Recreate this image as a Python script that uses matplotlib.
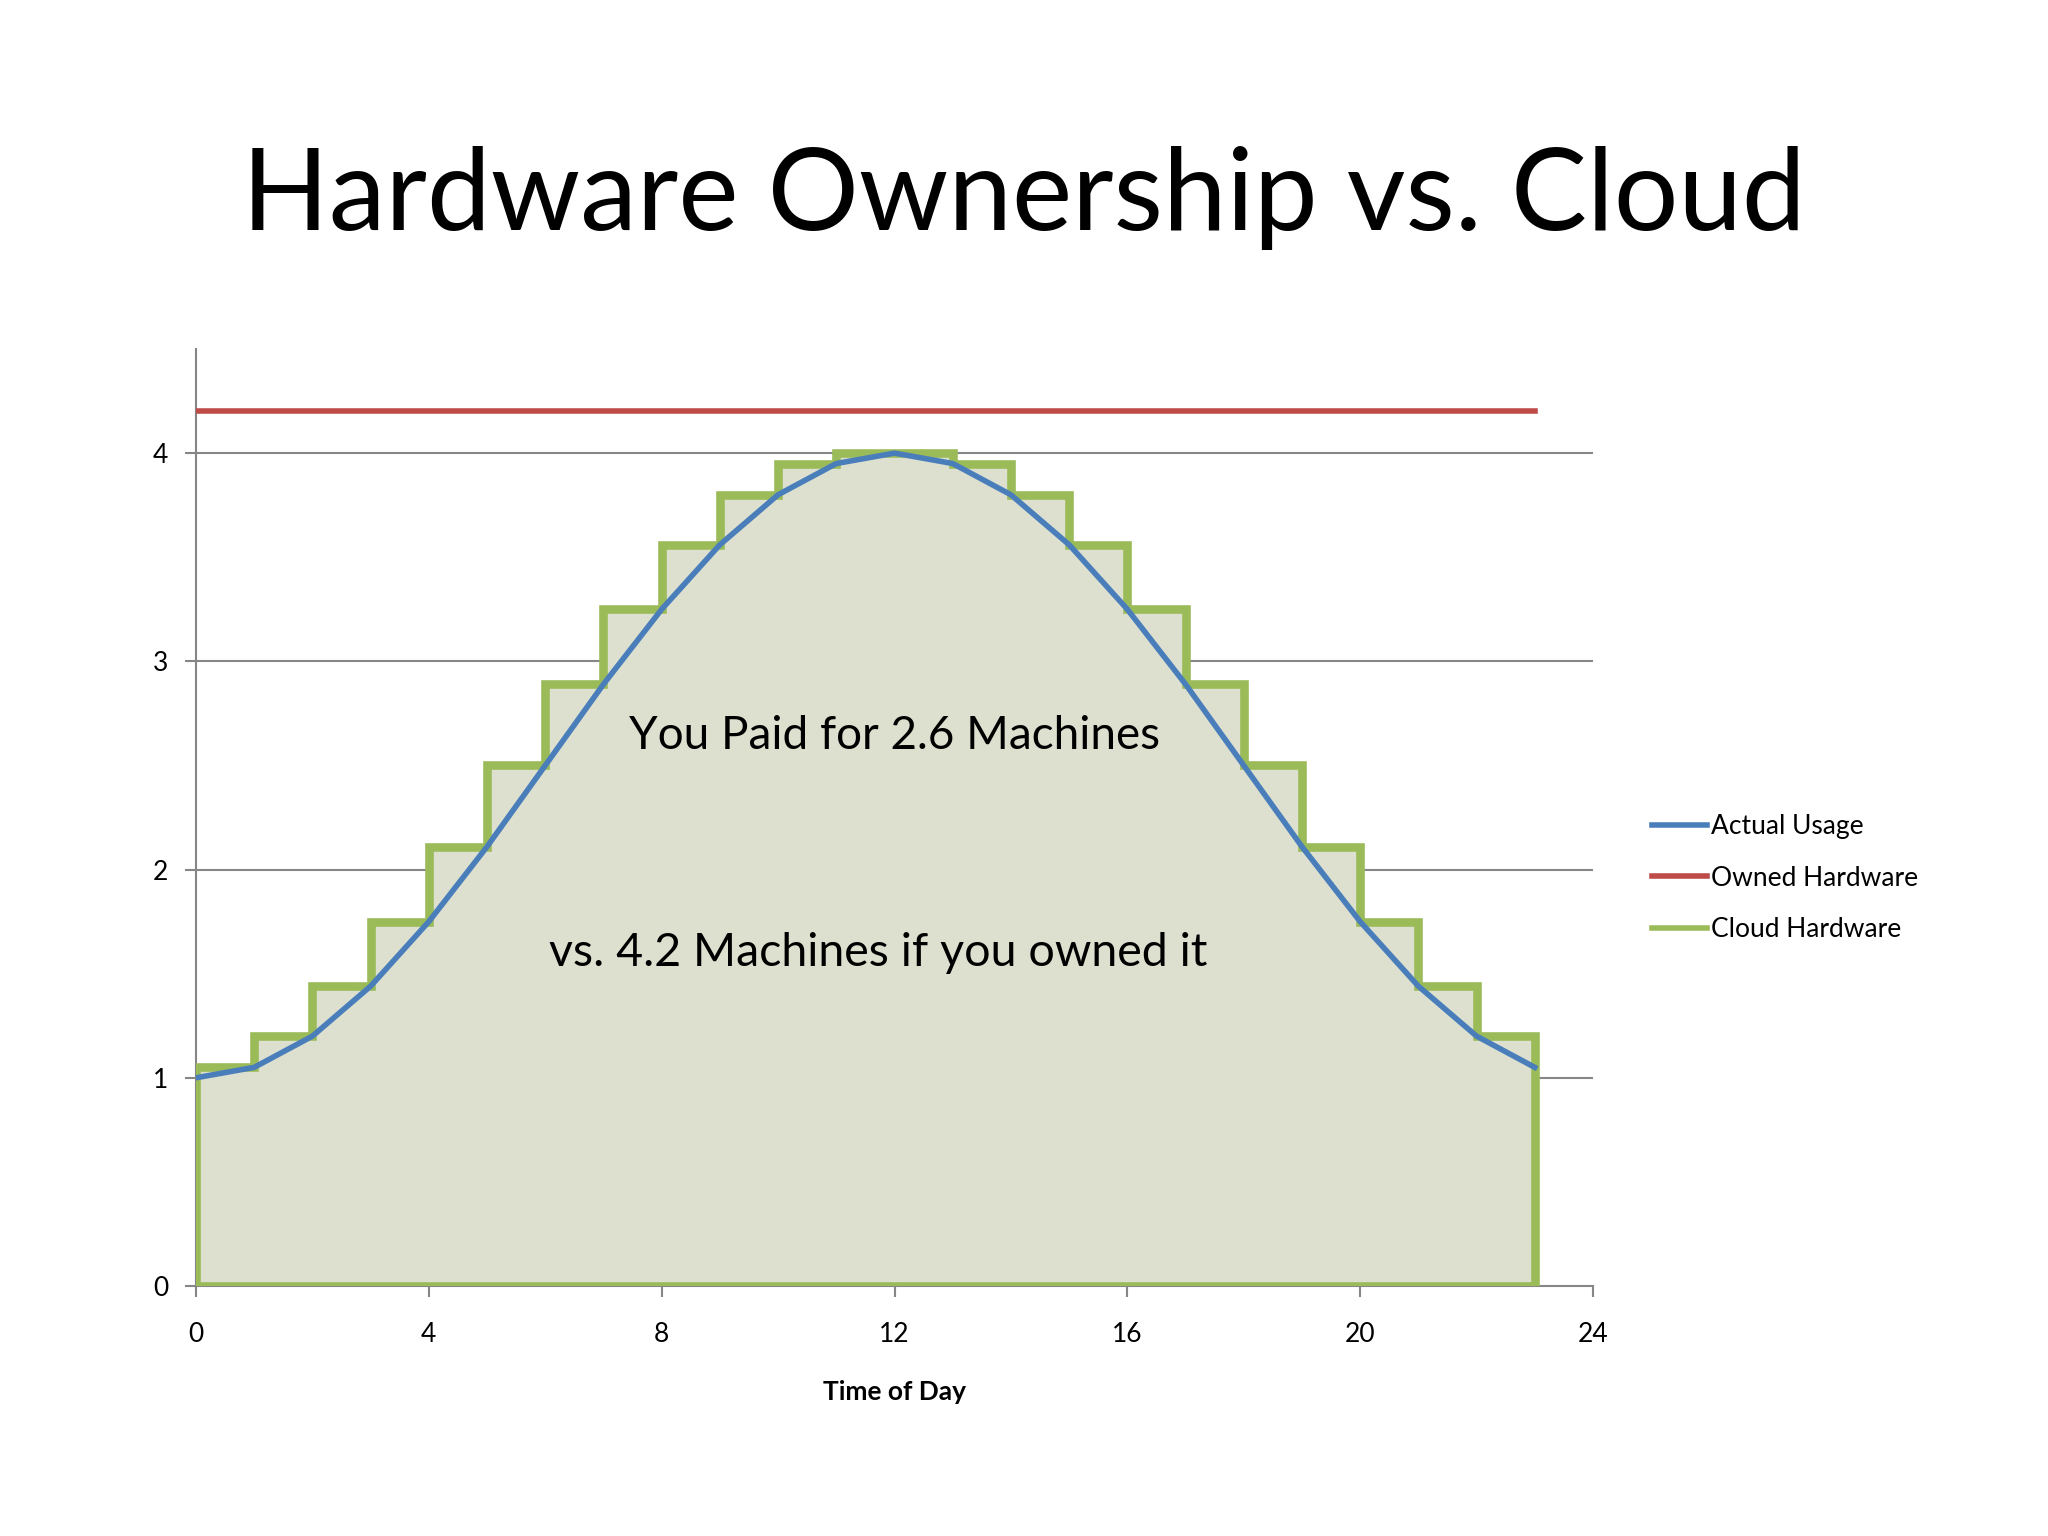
import numpy as np
import matplotlib
matplotlib.use('Agg')
import matplotlib.pyplot as plt
from matplotlib.lines import Line2D

plt.rcParams['font.family'] = ['Lato', 'DejaVu Sans']

# hours of the day and the usage curve
hours = [0, 1, 2, 3, 4, 5, 6, 7, 8, 9, 10, 11, 12, 13, 14, 15, 16, 17, 18, 19, 20, 21, 22, 23]
actual_usage = [1.00, 1.05, 1.20, 1.44, 1.75, 2.11, 2.50, 2.89, 3.25, 3.56, 3.80, 3.95,
                4.00, 3.95, 3.80, 3.56, 3.25, 2.89, 2.50, 2.11, 1.75, 1.44, 1.20, 1.05]
owned_hardware = [4.2] * 24

# cloud machines for each hour slot [h, h+1]
cloud_edges = hours
cloud_levels = [1.05, 1.20, 1.44, 1.75, 2.11, 2.50, 2.89, 3.25, 3.56, 3.80, 3.95, 4.00,
                4.00, 3.95, 3.80, 3.56, 3.25, 2.89, 2.50, 2.11, 1.75, 1.44, 1.20]

labels = ['Actual Usage', 'Owned Hardware', 'Cloud Hardware']
c_blue = '#4a7ebb'
c_red = '#be4b48'
c_green = '#9bbb59'
c_fill = '#dde0cf'
c_grid = '#868686'

fig = plt.figure(figsize=(20.48, 15.36), dpi=100)
ax = fig.add_axes([196/2048, 1 - 1286/1536, (1593-196)/2048, (1286-349)/1536])

# cloud polygon: step outline closed down to zero
xs = np.repeat(cloud_edges, 2)
ys = np.concatenate([[0], np.repeat(cloud_levels, 2), [0]])
ax.fill(xs, ys, color=c_fill, zorder=1)
ax.plot(np.append(xs, xs[0]), np.append(ys, ys[0]), color=c_green, lw=6.2,
        solid_joinstyle='miter', zorder=3)

ax.plot(hours, actual_usage, color=c_blue, lw=4.0, zorder=4)
ax.plot(hours, owned_hardware, color=c_red, lw=4.0, zorder=4)

ax.set_xlim(0, 24)
ax.set_ylim(0, 4.5)
ax.set_xticks(range(0, 25, 4))
ax.set_yticks(range(0, 5))
for yv in range(1, 5):
    ax.axhline(yv, color=c_grid, lw=1.5, zorder=0)

for s in ['top', 'right']:
    ax.spines[s].set_visible(False)
for s in ['left', 'bottom']:
    ax.spines[s].set_color(c_grid)
    ax.spines[s].set_linewidth(1.5)
ax.spines['bottom'].set_zorder(2)

ax.tick_params(axis='both', colors=c_grid, labelcolor='black', labelsize=19,
               length=8, width=1.5, direction='out')
ax.tick_params(axis='y', pad=12)
ax.tick_params(axis='x', pad=18)

ax.set_xlabel('Time of Day', fontsize=19, fontweight='bold', labelpad=24)

ax.text(12, 2.64, 'You Paid for 2.6 Machines', fontsize=33, ha='center', va='center', zorder=5)
ax.text(11.72, 1.6, 'vs. 4.2 Machines if you owned it', fontsize=33.5, ha='center', va='center', zorder=5)

fig.text(0.5, 1 - 198/1536, 'Hardware Ownership vs. Cloud', fontsize=82,
         ha='center', va='center')

handles = [Line2D([], [], color=c, lw=4.0) for c in [c_blue, c_red, c_green]]
fig.legend(handles, labels, loc='center left', bbox_to_anchor=(1652/2048, 1 - 878/1536),
           frameon=False, fontsize=19, handlelength=2.1, handletextpad=0.15,
           labelspacing=1.0, borderpad=0, borderaxespad=0)

fig.savefig('out.png', dpi=100)
